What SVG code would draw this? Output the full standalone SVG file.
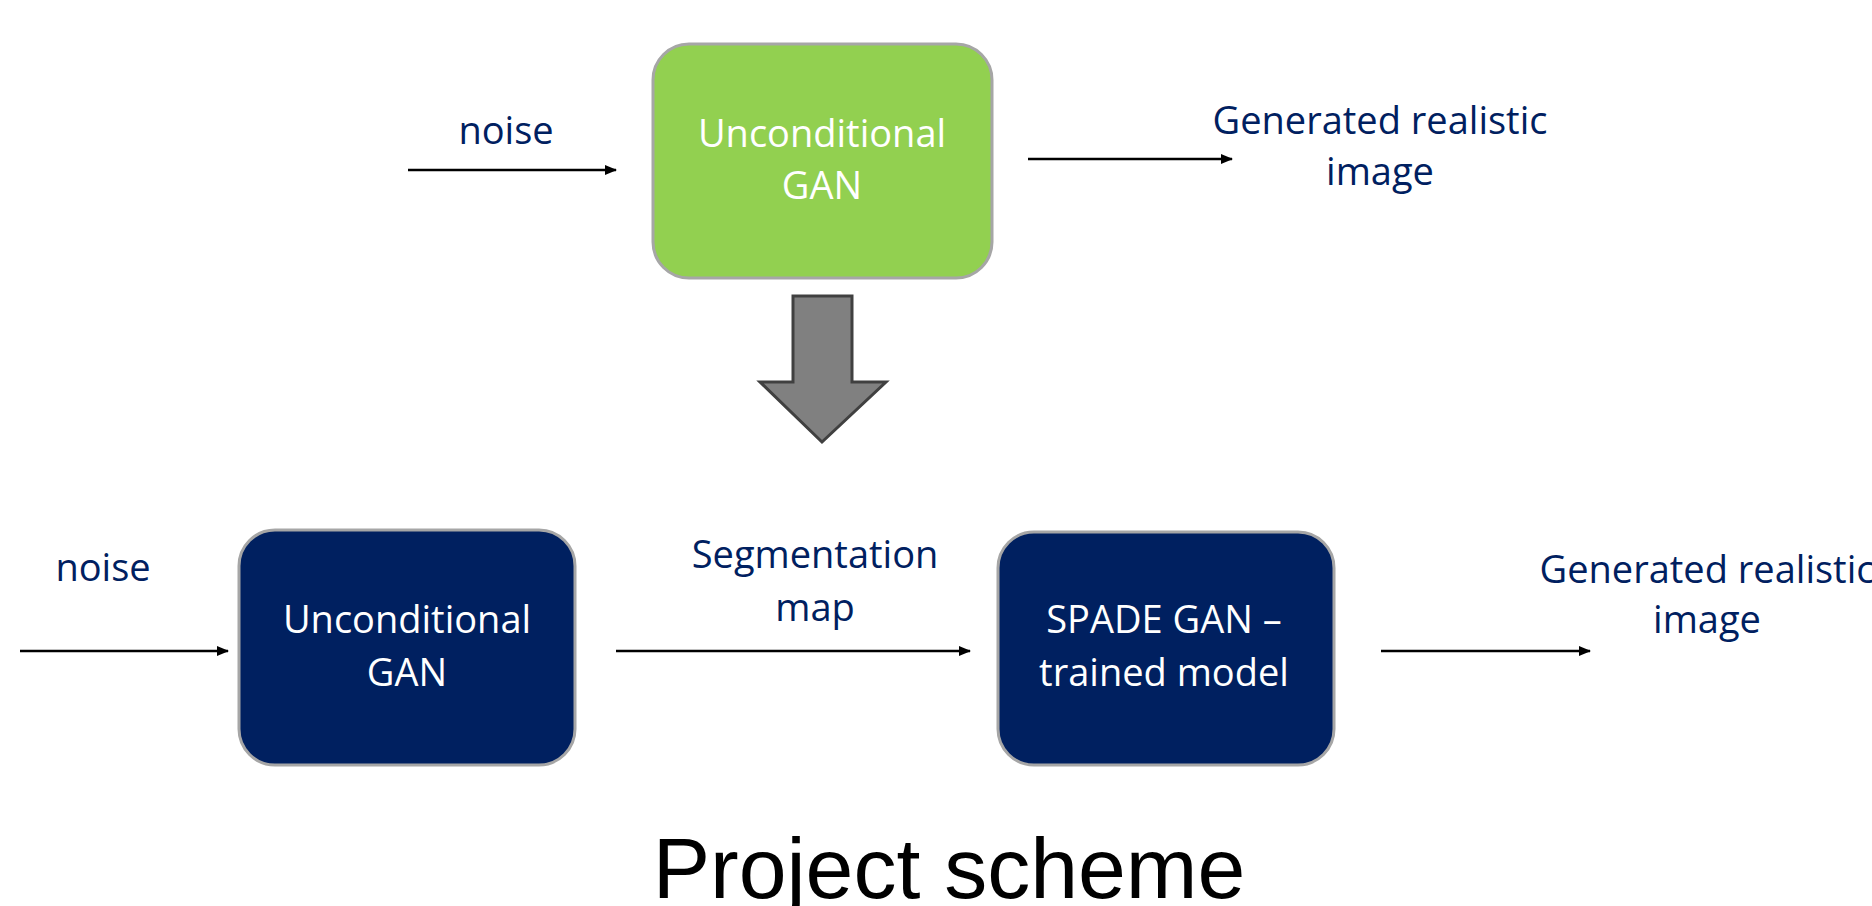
<svg xmlns="http://www.w3.org/2000/svg" width="1872" height="906" viewBox="0 0 1872 906">
  <style>
    .lbl { font-family: "Open Sans", "DejaVu Sans", sans-serif; font-size: 38px; fill: #002060; text-anchor: middle; }
    .in { font-family: "Open Sans", "DejaVu Sans", sans-serif; font-size: 38px; fill: #ffffff; text-anchor: middle; }
    .box { stroke: #a6a6a6; stroke-width: 3; }
    .green { fill: #92d050; }
    .navy { fill: #002060; }
    .conn { stroke: #000000; stroke-width: 2.5; fill: none; marker-end: url(#head); }
    .title { font-family: "Liberation Sans", Arial, sans-serif; font-size: 86px; fill: #000000; text-anchor: middle; }
  </style>
  <defs>
    <marker id="head" markerWidth="12" markerHeight="10" refX="11" refY="5" orient="auto" markerUnits="userSpaceOnUse">
      <path d="M0,0 L12,5 L0,10 Z" fill="#000000"/>
    </marker>
  </defs>

  <rect width="1872" height="906" fill="#ffffff"/>

  <!-- connectors -->
  <g id="connectors">
    <line class="conn" x1="408" y1="170" x2="616" y2="170"/>
    <line class="conn" x1="1028" y1="159" x2="1232" y2="159"/>
    <line class="conn" x1="20" y1="651" x2="228" y2="651"/>
    <line class="conn" x1="616" y1="651" x2="970" y2="651"/>
    <line class="conn" x1="1381" y1="651" x2="1590" y2="651"/>
  </g>

  <!-- top row labels -->
  <g id="label-noise-top">
    <text class="lbl" x="506" y="144">noise</text>
  </g>
  <g id="node-uncond-top">
    <rect class="box green" x="653" y="44" width="339" height="234" rx="36"/>
    <text class="in" x="822" y="147">Unconditional</text>
    <text class="in" x="822" y="199">GAN</text>
  </g>
  <g id="label-output-top">
    <text class="lbl" x="1380" y="134">Generated realistic</text>
    <text class="lbl" x="1380" y="185">image</text>
  </g>

  <!-- block arrow between the two pipelines -->
  <g id="transition-arrow">
    <path d="M793,296 L852,296 L852,382 L886,382 L822,442 L760,382 L793,382 Z" fill="#808080" stroke="#404040" stroke-width="3" stroke-linejoin="miter"/>
  </g>

  <!-- bottom row -->
  <g id="label-noise-bottom">
    <text class="lbl" x="103" y="581">noise</text>
  </g>
  <g id="node-uncond-bottom">
    <rect class="box navy" x="239" y="530" width="336" height="235" rx="36"/>
    <text class="in" x="407" y="633">Unconditional</text>
    <text class="in" x="407" y="686">GAN</text>
  </g>
  <g id="label-segmentation">
    <text class="lbl" x="815" y="568">Segmentation</text>
    <text class="lbl" x="815" y="621">map</text>
  </g>
  <g id="node-spade">
    <rect class="box navy" x="998" y="532" width="336" height="233" rx="36"/>
    <text class="in" x="1164" y="633">SPADE GAN –</text>
    <text class="in" x="1164" y="686">trained model</text>
  </g>
  <g id="label-output-bottom">
    <text class="lbl" x="1707" y="583">Generated realistic</text>
    <text class="lbl" x="1707" y="633">image</text>
  </g>

  <g id="title">
    <text class="title" x="949" y="898">Project scheme</text>
  </g>
</svg>
